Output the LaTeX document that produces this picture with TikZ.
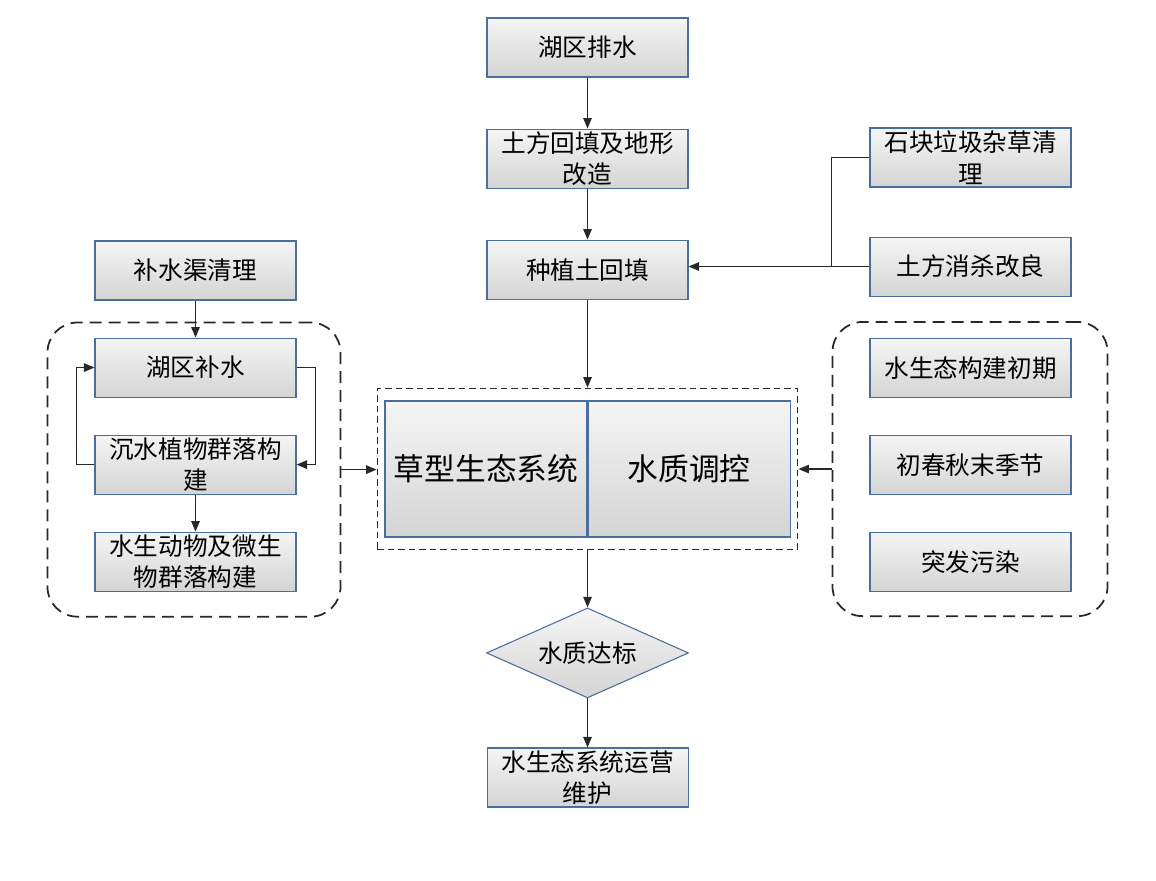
\documentclass[tikz,border=0pt]{standalone}
\usepackage{fontspec}
\setmainfont{Noto Sans CJK SC}
\usetikzlibrary{shapes.geometric, arrows.meta, positioning, fit}
\definecolor{boxline}{RGB}{74,110,160}
\definecolor{boxtop}{RGB}{245,245,245}
\definecolor{boxbottom}{RGB}{212,212,212}
\definecolor{wire}{RGB}{40,40,40}

\begin{document}
\begin{tikzpicture}[
    stage/.style={rectangle, draw=boxline, line width=0.6pt, top color=boxtop, bottom color=boxbottom, minimum width=4.02cm, minimum height=1.18cm, inner sep=0pt, align=center, font=\fontsize{14pt}{18pt}\selectfont},
    corebox/.style={stage, minimum width=4.04cm, minimum height=2.72cm, font=\fontsize{17.5pt}{21pt}\selectfont},
    goal/.style={diamond, aspect=2.24, draw=boxline, line width=0.6pt, top color=boxtop, bottom color=boxbottom, minimum width=4.04cm, minimum height=1.8cm, inner sep=0pt, font=\fontsize{14pt}{18pt}\selectfont},
    groupbox/.style={draw=wire, dash pattern=on 0.13cm off 0.08cm, line width=1pt, inner sep=0pt},
    roundgroup/.style={draw=wire, line width=1pt, dash pattern=on 0.24cm off 0.14cm, rounded corners=0.6cm, inner sep=0pt},
    arrow/.style={-{Triangle[length=2.1mm,width=1.7mm]}, line width=0.7pt, draw=wire},
    link/.style={line width=0.7pt, draw=wire},
    node distance=1.02cm
]
    \useasboundingbox (0,0) rectangle (23.12,17.6);

    % Main column
    \node[stage] (paishui) at (11.75,16.65) {湖区排水};
    \node[stage, below=of paishui] (tufang) {土方回填及地形\\改造};
    \node[stage, below=of tufang] (zhongzhi) {种植土回填};

    % Core
    \node[corebox] (cao) at (9.72,8.22) {草型生态系统};
    \node[corebox, right=0cm of cao] (tiaokong) {水质调控};
    \node[groupbox, fit=(cao)(tiaokong), inner xsep=0.14cm, inner ysep=0.24cm] (core) {};

    \node[goal, below=1.14cm of core] (dabiao) {水质达标};
    \node[stage, below=0.98cm of dabiao] (weihu) {水生态系统运营\\维护};

    % Left group
    \node[stage] (qushui) at (3.91,12.19) {补水渠清理};
    \node[stage, below=0.74cm of qushui] (hubu) {湖区补水};
    \node[stage, below=0.74cm of hubu] (chenshui) {沉水植物群落构\\建};
    \node[stage, below=0.74cm of chenshui] (dongwu) {水生动物及微生\\物群落构建};
    \node[roundgroup, fit={([xshift=-0.94cm,yshift=0.3cm]hubu.north west) ([xshift=0.88cm,yshift=-0.5cm]dongwu.south east)}] (leftgroup) {};

    % Right side
    \node[stage] (shikuai) at (19.41,14.45) {石块垃圾杂草清\\理};
    \node[stage, below=0.98cm of shikuai] (xiaosha) {土方消杀改良};
    \node[stage] (chuqi) at (19.41,10.24) {水生态构建初期};
    \node[stage, below=0.74cm of chuqi] (jijie) {初春秋末季节};
    \node[stage, below=0.74cm of jijie] (tufa) {突发污染};
    \node[roundgroup, fit={([xshift=-0.74cm,yshift=0.32cm]chuqi.north west) ([xshift=0.72cm,yshift=-0.48cm]tufa.south east)}] (rightgroup) {};

    % Connectors
    \draw[arrow] (paishui) -- (tufang);
    \draw[arrow] (tufang) -- (zhongzhi);
    \draw[arrow] (zhongzhi.south) -- (zhongzhi.south |- core.north);
    \coordinate[left=0.76cm of xiaosha.west] (hub);
    \draw[link] (shikuai.west) -| (hub);
    \draw[arrow] (xiaosha.west) -- (xiaosha.west -| zhongzhi.east);

    \draw[arrow] (qushui) -- (hubu);
    \draw[arrow] (chenshui.west) -- ++(-0.36,0) |- (hubu.west);
    \draw[arrow] (hubu.east) -- ++(0.38,0) |- (chenshui.east);
    \draw[arrow] (chenshui) -- (dongwu);

    \draw[arrow] (leftgroup.east) -- (core.west |- leftgroup.east);
    \draw[arrow] (rightgroup.west) -- (core.east |- rightgroup.west);
    \draw[arrow] (core.south -| dabiao.north) -- (dabiao.north);
    \draw[arrow] (dabiao) -- (weihu);

\end{tikzpicture}
\end{document}
